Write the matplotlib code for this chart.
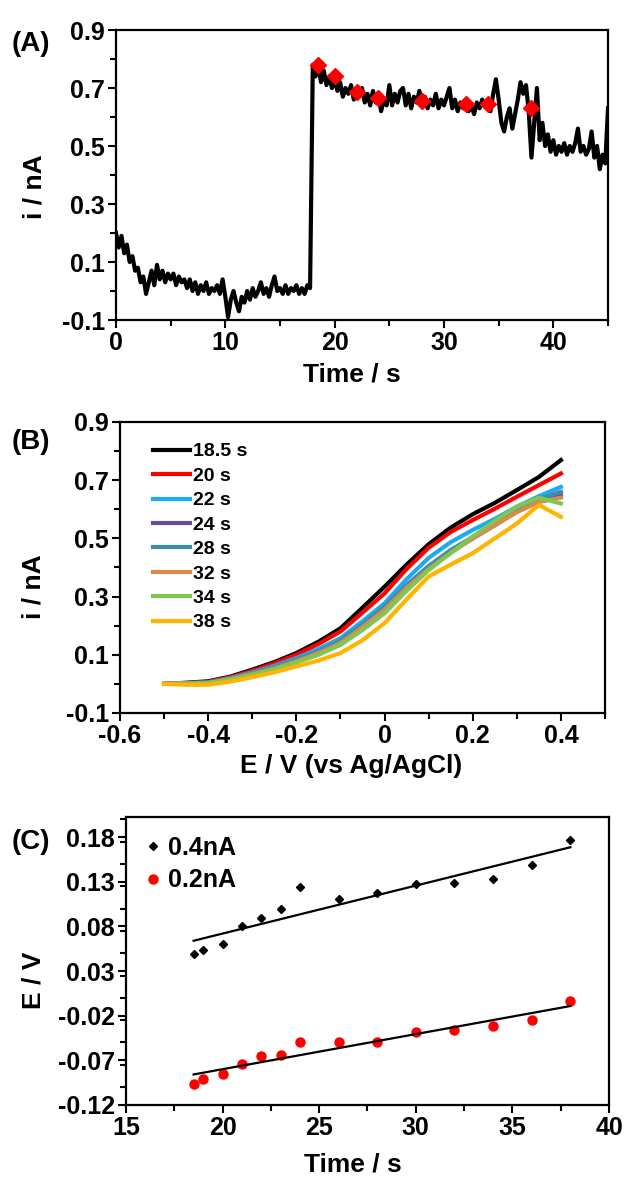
import numpy as np
import matplotlib
matplotlib.use("Agg")
import matplotlib.pyplot as plt
from matplotlib.ticker import MultipleLocator, FormatStrFormatter

plt.rcParams['font.family'] = ['Liberation Sans', 'DejaVu Sans']
plt.rcParams['font.weight'] = 'bold'
plt.rcParams['axes.labelweight'] = 'bold'
plt.rcParams['axes.unicode_minus'] = False

# ---- panel A: chronoamperometry, read every 0.25 s ----
t_a = np.arange(0, 45.01, 0.25)
i_a = [
    0.20, 0.15, 0.19, 0.13, 0.16, 0.10, 0.12, 0.07, 0.08, 0.03,
    0.05, -0.01, 0.03, 0.07, 0.02, 0.09, 0.04, 0.07, 0.03, 0.06,
    0.04, 0.06, 0.02, 0.05, 0.03, 0.04, 0.01, 0.04, 0.00, 0.03,
    -0.01, 0.02, 0.00, 0.03, -0.01, 0.01, 0.00, 0.02, -0.01, 0.04,
    -0.02, -0.09, -0.03, 0.00, -0.04, -0.07, -0.02, -0.04, 0.00, -0.03,
    0.01, -0.02, 0.00, 0.03, -0.01, 0.01, -0.02, 0.02, 0.05, 0.00,
    0.01, -0.01, 0.02, -0.01, 0.01, 0.00, 0.02, -0.01, 0.01, -0.01,
    0.02, 0.01, 0.78, 0.74, 0.78, 0.72, 0.76, 0.71, 0.74, 0.70,
    0.73, 0.69, 0.72, 0.67, 0.70, 0.68, 0.71, 0.66, 0.69, 0.67,
    0.70, 0.65, 0.68, 0.64, 0.69, 0.65, 0.67, 0.62, 0.66, 0.64,
    0.71, 0.64, 0.68, 0.65, 0.69, 0.70, 0.64, 0.68, 0.63, 0.67,
    0.65, 0.69, 0.64, 0.67, 0.63, 0.66, 0.64, 0.68, 0.63, 0.66,
    0.64, 0.67, 0.70, 0.63, 0.66, 0.62, 0.65, 0.63, 0.66, 0.62,
    0.64, 0.61, 0.65, 0.63, 0.66, 0.64, 0.66, 0.62, 0.68, 0.73,
    0.66, 0.58, 0.55, 0.60, 0.63, 0.56, 0.61, 0.66, 0.72, 0.68,
    0.71, 0.62, 0.46, 0.58, 0.70, 0.52, 0.58, 0.50, 0.54, 0.48,
    0.52, 0.47, 0.50, 0.48, 0.51, 0.47, 0.50, 0.48, 0.51, 0.56,
    0.48, 0.50, 0.47, 0.49, 0.55, 0.46, 0.50, 0.42, 0.47, 0.44,
    0.63,
]
t_mark = [18.5, 20, 22, 24, 28, 32, 34, 38]
i_mark = [0.78, 0.74, 0.685, 0.665, 0.655, 0.645, 0.645, 0.63]

# ---- panel B: LSV curves ----
E_b = np.round(np.arange(-0.5, 0.401, 0.05), 3)
lsv_labels = ['18.5 s', '20 s', '22 s', '24 s', '28 s', '32 s', '34 s', '38 s']
lsv_colors = ['#000000', '#ff0000', '#1eaaf0', '#6a4c9c', '#3d8ea8', '#d98a4c', '#80c650', '#ffb400']
lsv_185 = [0.0, 0.004, 0.009, 0.025, 0.049, 0.075, 0.106, 0.145, 0.191, 0.262,
           0.334, 0.41, 0.480, 0.537, 0.583, 0.622, 0.666, 0.711, 0.769]
lsv_20 = [0.0, 0.003, 0.007, 0.023, 0.045, 0.071, 0.100, 0.137, 0.180, 0.245,
          0.311, 0.395, 0.468, 0.522, 0.563, 0.602, 0.643, 0.683, 0.723]
lsv_22 = [0.0, 0.003, 0.005, 0.020, 0.040, 0.062, 0.089, 0.120, 0.157, 0.215,
          0.277, 0.36, 0.433, 0.487, 0.529, 0.567, 0.609, 0.645, 0.677]
lsv_24 = [0.0, 0.002, 0.004, 0.018, 0.036, 0.056, 0.082, 0.110, 0.145, 0.200,
          0.260, 0.335, 0.400, 0.455, 0.500, 0.545, 0.595, 0.630, 0.650]
lsv_28 = [0.0, 0.002, 0.004, 0.018, 0.037, 0.057, 0.083, 0.112, 0.148, 0.205,
          0.265, 0.34, 0.405, 0.46, 0.505, 0.55, 0.60, 0.635, 0.66]
lsv_32 = [0.0, 0.002, 0.003, 0.017, 0.034, 0.053, 0.078, 0.106, 0.140, 0.195,
          0.255, 0.33, 0.395, 0.45, 0.50, 0.545, 0.59, 0.625, 0.64]
lsv_34 = [0.0, 0.001, 0.003, 0.015, 0.031, 0.050, 0.074, 0.100, 0.134, 0.185,
          0.243, 0.32, 0.391, 0.45, 0.506, 0.56, 0.609, 0.64, 0.62]
lsv_38 = [0.0, -0.003, -0.003, 0.008, 0.023, 0.040, 0.060, 0.080, 0.106, 0.150,
          0.209, 0.29, 0.369, 0.41, 0.449, 0.50, 0.551, 0.615, 0.574]
lsv_all = [lsv_185, lsv_20, lsv_22, lsv_24, lsv_28, lsv_32, lsv_34, lsv_38]

# ---- panel C: potential at fixed current vs time ----
t_c = [18.5, 19, 20, 21, 22, 23, 24, 26, 28, 30, 32, 34, 36, 38]
E_04 = [0.049, 0.054, 0.060, 0.080, 0.089, 0.100, 0.124, 0.111, 0.117, 0.127, 0.129, 0.133, 0.149, 0.177]
E_02 = [-0.096, -0.091, -0.085, -0.074, -0.065, -0.064, -0.050, -0.050, -0.050, -0.038, -0.036, -0.031, -0.025, -0.004]

TICK_FS = 18
LABEL_FS = 19


def style(ax):
    for s in ax.spines.values():
        s.set_linewidth(1.6)
    ax.tick_params(which='both', direction='out', top=False, right=False,
                   labelsize=TICK_FS, width=1.5, pad=2)
    ax.tick_params(which='major', length=6)
    ax.tick_params(which='minor', length=4)


fig = plt.figure(figsize=(6.27, 11.78), dpi=100)
W, H = 627, 1178
axA = fig.add_axes([116 / W, 1 - 320 / H, 492 / W, 290 / H])
axB = fig.add_axes([120 / W, 1 - 713 / H, 485 / W, 291 / H])
axC = fig.add_axes([126 / W, 1 - 1105 / H, 483 / W, 288 / H])

# A
axA.plot(t_a, i_a, color='black', lw=3.0)
axA.plot(t_mark, i_mark, ls='none', marker='D', ms=8, color='red', mec='red')
axA.set_xlim(0, 45)
axA.set_ylim(-0.1, 0.9)
axA.xaxis.set_major_locator(MultipleLocator(10))
axA.xaxis.set_minor_locator(MultipleLocator(5))
axA.yaxis.set_minor_locator(MultipleLocator(0.1))
axA.set_yticks([-0.1, 0.1, 0.3, 0.5, 0.7, 0.9])
axA.yaxis.set_major_formatter(FormatStrFormatter('%.1f'))
style(axA)
axA.set_xlabel('Time / s', fontsize=LABEL_FS)
axA.set_ylabel('i / nA', fontsize=LABEL_FS)
axA.xaxis.set_label_coords(0.48, -0.145)
axA.yaxis.set_label_coords(-0.142, 0.46)

# B
for vals, lab, col in zip(lsv_all, lsv_labels, lsv_colors):
    axB.plot(E_b, vals, color=col, lw=3.0, label=lab)
axB.set_xlim(-0.6, 0.5)
axB.set_ylim(-0.1, 0.9)
axB.set_xticks([-0.6, -0.4, -0.2, 0, 0.2, 0.4])
axB.set_xticklabels(['-0.6', '-0.4', '-0.2', '0', '0.2', '0.4'])
axB.xaxis.set_minor_locator(MultipleLocator(0.1))
axB.set_yticks([-0.1, 0.1, 0.3, 0.5, 0.7, 0.9])
axB.yaxis.set_major_formatter(FormatStrFormatter('%.1f'))
axB.yaxis.set_minor_locator(MultipleLocator(0.1))
style(axB)
axB.set_xlabel('E / V (vs Ag/AgCl)', fontsize=LABEL_FS)
axB.set_ylabel('i / nA', fontsize=LABEL_FS)
axB.xaxis.set_label_coords(0.476, -0.14)
axB.yaxis.set_label_coords(-0.153, 0.433)
axB.legend(loc='upper left', frameon=False, fontsize=14, labelspacing=0.35,
           handlelength=1.9, handletextpad=0.15, borderaxespad=0.0,
           bbox_to_anchor=(0.053, 0.955))

# C
k04, b04 = np.polyfit(t_c, E_04, 1)
k02, b02 = np.polyfit(t_c, E_02, 1)
t_fit = np.array([t_c[0], t_c[-1]])
axC.plot(t_c, E_04, ls='none', marker='D', ms=4.5, color='black', label='0.4nA')
axC.plot(t_c, E_02, ls='none', marker='o', ms=6.5, color='red', label='0.2nA')
axC.plot(t_fit, k04 * t_fit + b04, color='black', lw=1.6)
axC.plot(t_fit, k02 * t_fit + b02, color='black', lw=1.6)
axC.set_xlim(15, 40)
axC.set_ylim(-0.12, 0.2025)
axC.xaxis.set_major_locator(MultipleLocator(5))
axC.xaxis.set_minor_locator(MultipleLocator(2.5))
axC.set_yticks([-0.12, -0.07, -0.02, 0.03, 0.08, 0.13, 0.18])
axC.yaxis.set_major_formatter(FormatStrFormatter('%.2f'))
axC.yaxis.set_minor_locator(MultipleLocator(0.025))
style(axC)
axC.set_xlabel('Time / s', fontsize=LABEL_FS)
axC.set_ylabel('E / V', fontsize=LABEL_FS)
axC.xaxis.set_label_coords(0.47, -0.165)
axC.yaxis.set_label_coords(-0.166, 0.434)
axC.legend(loc='upper left', frameon=False, fontsize=18, labelspacing=0.35,
           handlelength=0.6, handletextpad=0.3, borderaxespad=0.0,
           bbox_to_anchor=(0.02, 0.97))

# panel letters
fig.text(12 / W, 1 - 44 / H, '(A)', fontsize=20, va='center', ha='left')
fig.text(12 / W, 1 - 442 / H, '(B)', fontsize=20, va='center', ha='left')
fig.text(12 / W, 1 - 842 / H, '(C)', fontsize=20, va='center', ha='left')

fig.savefig('out.png', dpi=100)
